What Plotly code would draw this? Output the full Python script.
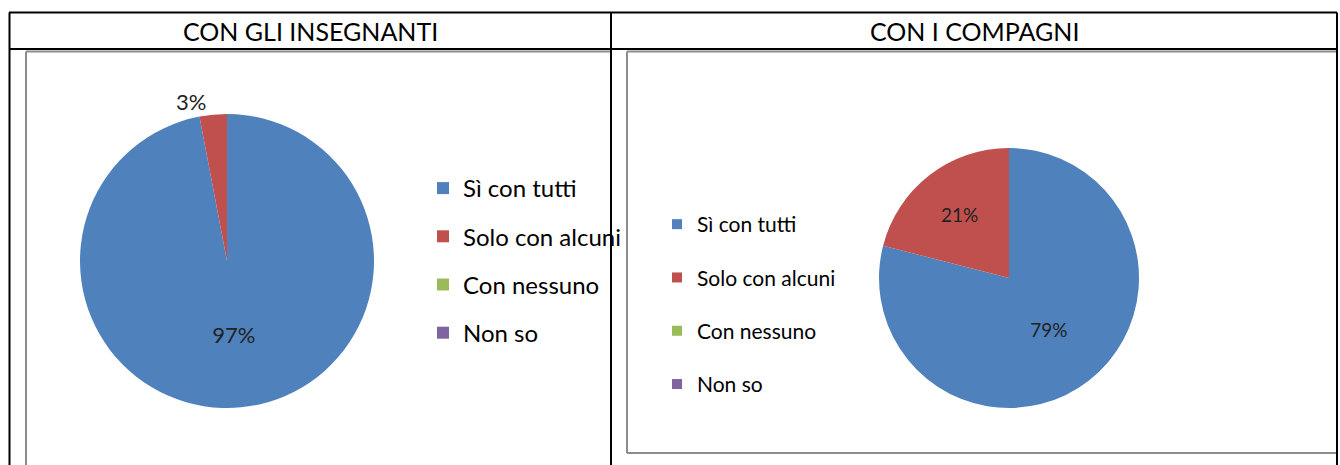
import plotly.graph_objects as go

# Dati
categorie = ["Sì con tutti", "Solo con alcuni", "Con nessuno", "Non so"]
insegnanti = [97, 3, 0, 0]
compagni = [79, 21, 0, 0]
titoli = ["CON GLI INSEGNANTI", "CON I COMPAGNI"]
colori = ["#4F81BD", "#C0504D", "#9BBB59", "#8064A2"]

W, H = 1340, 465
FONT = "Lato"


def px(x):
    return x / W


def py(y):
    return 1 - y / H


fig = go.Figure()

# Torta 1: con gli insegnanti
fig.add_trace(go.Pie(
    labels=categorie, values=insegnanti, sort=False, direction="clockwise", rotation=0,
    marker=dict(colors=colori, line=dict(width=0)),
    textinfo="percent", textposition=["inside", "outside", "inside", "inside"],
    insidetextorientation="horizontal",
    textfont=dict(family=FONT, size=22, color="#222"),
    domain=dict(x=[px(80), px(374)], y=[py(408), py(114)]),
    showlegend=False,
))

# Torta 2: con i compagni
fig.add_trace(go.Pie(
    labels=categorie, values=compagni, sort=False, direction="clockwise", rotation=0,
    marker=dict(colors=colori, line=dict(width=0)),
    textinfo="percent", textposition="inside",
    insidetextorientation="horizontal",
    textfont=dict(family=FONT, size=19, color="#222"),
    domain=dict(x=[px(879), px(1139)], y=[py(408), py(148)]),
    showlegend=False,
))

# Legende (una per grafico)
for leg, size in [("legend", 12), ("legend2", 10)]:
    for i, (nome, col) in enumerate(zip(categorie, colori)):
        fig.add_trace(go.Scatter(
            x=[None], y=[None], mode="markers", name=nome,
            marker=dict(symbol="square", size=size, color=col),
            legend=leg, legendgroup=leg + str(i), showlegend=True,
        ))

# Tabella: linee nere e cornici grigie
nero = dict(color="black", width=2)
grigio = dict(color="#8c8c8c", width=2)
linee = [
    (9, 12.5, 1337, 12.5, nero),
    (9, 49, 1337, 49, nero),
    (9.5, 12.5, 9.5, 465, nero),
    (611, 12.5, 611, 465, nero),
    (1337, 12.5, 1337, 465, nero),
    (26, 51.5, 610, 51.5, grigio),
    (26, 51.5, 26, 465, grigio),
    (627, 51.5, 1336, 51.5, grigio),
    (627, 51.5, 627, 453, grigio),
    (627, 453, 1336, 453, grigio),
]
for x0, y0, x1, y1, st in linee:
    fig.add_shape(type="line", xref="paper", yref="paper",
                  x0=px(x0), y0=py(y0), x1=px(x1), y1=py(y1), line=st)

# Intestazioni
for titolo, xc in zip(titoli, [310, 974]):
    fig.add_annotation(text=titolo, x=px(xc), y=py(31), xref="paper", yref="paper",
                       showarrow=False, font=dict(family=FONT, size=25, color="black"),
                       xanchor="center", yanchor="middle")

fig.update_layout(
    width=W, height=H,
    margin=dict(l=0, r=0, t=0, b=0),
    paper_bgcolor="white", plot_bgcolor="white",
    xaxis=dict(visible=False), yaxis=dict(visible=False),
    font=dict(family=FONT),
    legend=dict(x=px(423), y=py(166), xanchor="left", yanchor="top",
                font=dict(family=FONT, size=24, color="black"),
                traceorder="grouped", tracegroupgap=14, bgcolor="rgba(0,0,0,0)"),
    legend2=dict(x=px(657), y=py(204), xanchor="left", yanchor="top",
                 font=dict(family=FONT, size=21, color="black"),
                 traceorder="grouped", tracegroupgap=23, bgcolor="rgba(0,0,0,0)"),
)

fig.write_html("out.html", config={"displayModeBar": False},
               post_script="document.body.style.margin='0';")
print("out.html generato")
